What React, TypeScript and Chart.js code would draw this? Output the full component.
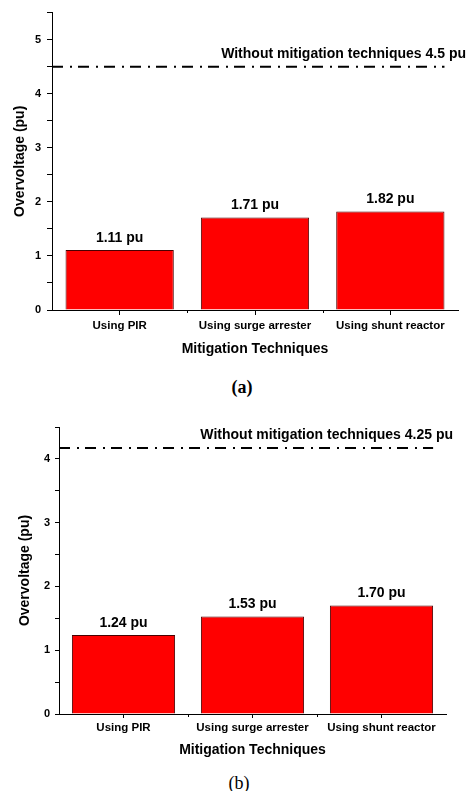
import React, { useEffect, useRef } from 'react';
import { Chart, registerables } from 'chart.js';

Chart.register(...registerables);

const categories = ['Using PIR', 'Using surge arrester', 'Using shunt reactor'];
const valuesA = [1.11, 1.71, 1.82];
const valuesB = [1.24, 1.53, 1.7];
const referenceA = 4.5;
const referenceB = 4.17;
const referenceLabelA = 'Without mitigation techniques 4.5 pu';
const referenceLabelB = 'Without mitigation techniques 4.25 pu';
const yMaxA = 5.5;
const yMaxB = 4.5;
const yTitle = 'Overvoltage (pu)';
const xTitle = 'Mitigation Techniques';

const SANS = '"Liberation Sans", Arial, Helvetica, sans-serif';
const SERIF = '"Liberation Serif", "Times New Roman", serif';

const annotatePlugin = {
  id: 'annotate',
  afterDatasetsDraw(chart: any, _args: any, opts: any) {
    const { ctx, chartArea, scales } = chart;
    const ys = scales.y;
    const xs = scales.x;
    const meta = chart.getDatasetMeta(0);
    const data = chart.data.datasets[0].data as number[];
    ctx.save();
    ctx.fillStyle = '#000';
    ctx.strokeStyle = '#000';
    ctx.font = `bold 14px ${SANS}`;
    ctx.textAlign = 'center';
    ctx.textBaseline = 'middle';
    meta.data.forEach((bar: any, i: number) => {
      ctx.fillText(`${data[i].toFixed(2)} pu`, bar.x, bar.y - 12);
    });
    // reference line
    const ry = ys.getPixelForValue(opts.value);
    const last = meta.data[meta.data.length - 1];
    const xEnd = last.x + last.width / 2;
    ctx.setLineDash([11, 7, 2, 6]);
    ctx.lineWidth = 2;
    ctx.beginPath();
    ctx.moveTo(chartArea.left, ry);
    ctx.lineTo(xEnd, ry);
    ctx.stroke();
    ctx.setLineDash([]);
    ctx.textAlign = 'right';
    ctx.fillText(opts.label, chartArea.right + opts.labelShift, ry - 13);
    // minor ticks at category boundaries
    ctx.lineWidth = 1;
    for (let i = 1; i < categories.length; i++) {
      const bx = Math.round((xs.getPixelForValue(i - 1) + xs.getPixelForValue(i)) / 2) + 0.5;
      ctx.beginPath();
      ctx.moveTo(bx, chartArea.bottom);
      ctx.lineTo(bx, chartArea.bottom + 3);
      ctx.stroke();
    }
    ctx.restore();
  },
};

type PanelProps = {
  values: number[];
  refValue: number;
  refLabel: string;
  labelShift: number;
  yMax: number;
  top: number;
  height: number;
  padTop: number;
  padRight: number;
  yWidth: number;
  xHeight: number;
  yTickLen: number;
  yTickPad: number;
  xTickLen: number;
  xTickPad: number;
  xTitlePad: number;
  yTitlePad: number;
};

function BarPanel(p: PanelProps) {
  const ref = useRef<HTMLCanvasElement>(null);
  useEffect(() => {
    if (!ref.current) return;
    const chart = new Chart(ref.current, {
      type: 'bar',
      data: {
        labels: categories,
        datasets: [
          {
            data: p.values,
            backgroundColor: '#ff0000',
            borderColor: '#4a0000',
            borderWidth: 1,
            barPercentage: 0.8,
            categoryPercentage: 1.0,
          },
        ],
      },
      plugins: [annotatePlugin as any],
      options: {
        animation: false,
        responsive: false,
        devicePixelRatio: 1,
        layout: { padding: { top: p.padTop, right: p.padRight, left: 0, bottom: 0 } },
        plugins: {
          legend: { display: false },
          tooltip: { enabled: false },
          annotate: { value: p.refValue, label: p.refLabel, labelShift: p.labelShift },
        } as any,
        scales: {
          x: {
            type: 'category',
            offset: true,
            grid: { offset: false, drawOnChartArea: false, drawTicks: true, tickLength: p.xTickLen, color: '#000' },
            border: { display: true, color: '#000', width: 1 },
            ticks: {
              color: '#000',
              padding: p.xTickPad,
              maxRotation: 0,
              autoSkip: false,
              font: { family: SANS, size: 11.5, weight: 'bold' },
            },
            title: {
              display: true,
              text: xTitle,
              color: '#000',
              font: { family: SANS, size: 14, weight: 'bold' },
              padding: { top: 0, bottom: p.xTitlePad },
            },
            afterFit: (s: any) => {
              s.height = p.xHeight;
            },
          },
          y: {
            min: 0,
            max: p.yMax,
            grid: { drawOnChartArea: false, drawTicks: true, tickLength: p.yTickLen, color: '#000' },
            border: { display: true, color: '#000', width: 1 },
            ticks: {
              stepSize: 0.5,
              autoSkip: false,
              color: '#000',
              padding: p.yTickPad,
              font: { family: SANS, size: 11, weight: 'bold' },
              callback: (v: any) => (Number.isInteger(v) ? String(v) : ''),
            },
            title: {
              display: true,
              text: yTitle,
              color: '#000',
              font: { family: SANS, size: 14, weight: 'bold' },
              padding: { top: p.yTitlePad, bottom: 0 },
            },
            afterFit: (s: any) => {
              s.width = p.yWidth;
            },
          },
        },
      } as any,
    });
    return () => chart.destroy();
  }, []);
  return (
    <canvas
      ref={ref}
      width={468}
      height={p.height}
      style={{ position: 'absolute', left: 0, top: p.top, width: 468, height: p.height }}
    />
  );
}

export default function App() {
  return (
    <div style={{ position: 'absolute', left: 0, top: 0, width: 468, height: 791, background: '#fff', overflow: 'hidden' }}>
      <BarPanel
        values={valuesA}
        refValue={referenceA}
        refLabel={referenceLabelA}
        labelShift={8}
        yMax={yMaxA}
        top={0}
        height={365}
        padTop={10}
        padRight={10}
        yWidth={52}
        xHeight={55}
        yTickLen={5}
        yTickPad={6}
        xTickLen={5}
        xTickPad={4}
        xTitlePad={7.6}
        yTitlePad={11.6}
      />
      <div
        style={{
          position: 'absolute',
          left: 242,
          top: 377,
          transform: 'translateX(-50%)',
          font: `bold 18px ${SERIF}`,
          lineHeight: '20px',
          color: '#000',
        }}
      >
        (a)
      </div>
      <BarPanel
        values={valuesB}
        refValue={referenceB}
        refLabel={referenceLabelB}
        labelShift={7}
        yMax={yMaxB}
        top={400}
        height={365}
        padTop={27}
        padRight={22}
        yWidth={59}
        xHeight={51}
        yTickLen={4}
        yTickPad={5}
        xTickLen={4}
        xTickPad={3}
        xTitlePad={6.6}
        yTitlePad={17}
      />
      <div
        style={{
          position: 'absolute',
          left: 239,
          top: 773,
          transform: 'translateX(-50%)',
          font: `18px ${SERIF}`,
          lineHeight: '20px',
          color: '#000',
        }}
      >
        (b)
      </div>
    </div>
  );
}
